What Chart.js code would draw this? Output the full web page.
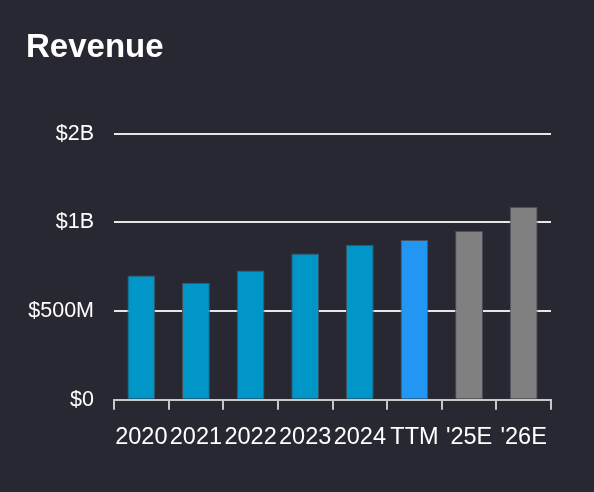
<!DOCTYPE html>
<html>
<head>
<meta charset="utf-8">
<script src="https://cdn.jsdelivr.net/npm/chart.js@4"></script>
<style>
  html, body { margin: 0; padding: 0; background: #282832; }
  #wrap { width: 594px; height: 492px; }
</style>
</head>
<body>
<div id="wrap"><canvas id="chartRevenue"></canvas></div>
<script>
const categories = ["2020", "2021", "2022", "2023", "2024", "TTM", "'25E", "'26E"];
const revenue = [700e6, 659e6, 728e6, 824e6, 873e6, 901e6, 951e6, 1086e6];
const barColors = ["#0096c8", "#0096c8", "#0096c8", "#0096c8", "#0096c8", "#2196f3", "#808080", "#808080"];
const yTickValues = [0, 500e6, 1000e6, 1500e6];
const yTickLabels = ["$0", "$500M", "$1B", "$2B"];

const lineColor = "#e6e6e6";
const ctx_revenue = document.getElementById("chartRevenue");

new Chart(ctx_revenue, {
  type: "bar",
  data: {
    labels: categories,
    datasets: [
      {
        label: "Revenue",
        data: revenue,
        backgroundColor: barColors,
        borderColor: "#46505e",
        borderWidth: 1,
        barPercentage: 0.51,
        categoryPercentage: 1,
      },
    ],
  },
  options: {
    responsive: true,
    maintainAspectRatio: false,
    animation: false,
    layout: {
      padding: { left: 26, right: 43, top: 28, bottom: 26 },
    },
    plugins: {
      legend: { display: false },
      tooltip: { enabled: false },
      title: {
        display: true,
        text: "Revenue",
        align: "start",
        color: "#ffffff",
        font: { family: "Liberation Sans", size: 33, weight: "bold" },
        padding: { top: 0, bottom: 66 },
      },
    },
    scales: {
      x: {
        offset: true,
        grid: {
          offset: true,
          drawOnChartArea: false,
          drawTicks: true,
          tickLength: 10,
          color: "#c8c8c8",
          lineWidth: 2,
        },
        border: { display: true, color: "#c8c8c8", width: 2 },
        ticks: {
          color: "#ffffff",
          autoSkip: false,
          maxRotation: 0,
          padding: 14,
          font: { family: "Liberation Sans", size: 23.5 },
        },
      },
      y: {
        min: 0,
        max: 1500e6,
        afterBuildTicks: (scale) => {
          scale.ticks = yTickValues.map((v) => ({ value: v }));
        },
        afterFit: (scale) => {
          scale.width = 88;
        },
        grid: {
          drawTicks: false,
          color: lineColor,
          lineWidth: 2,
        },
        border: { display: false },
        ticks: {
          color: "#ffffff",
          padding: 20,
          font: { family: "Liberation Sans", size: 21.5 },
          callback: (value) => yTickLabels[yTickValues.indexOf(value)],
        },
      },
    },
  },
});
</script>
</body>
</html>
